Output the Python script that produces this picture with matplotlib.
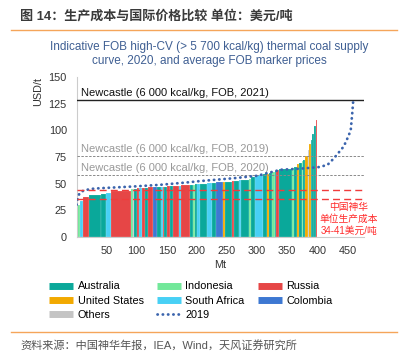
import matplotlib
matplotlib.use("Agg")
import matplotlib.pyplot as plt
from matplotlib.lines import Line2D

plt.rcParams['font.family'] = ['Liberation Sans', 'Noto Sans CJK SC', 'DejaVu Sans']

# country colours
colors = {
    "AU": "#0aa89a", "ID": "#72e89a", "RU": "#e64646", "US": "#f2a900",
    "ZA": "#48d0f5", "CO": "#3d78d2", "OT": "#c4c4c4",
}
names = {
    "AU": "Australia", "ID": "Indonesia", "RU": "Russia", "US": "United States",
    "ZA": "South Africa", "CO": "Colombia", "OT": "Others",
}

# supply curve segments (country, volume Mt, cost USD/t)
seg_country = ["ID", "ZA", "RU", "AU", "AU", "ZA", "RU", "ID", "OT", "AU",
               "RU", "ZA", "RU", "AU", "RU", "CO", "AU", "ZA", "RU", "AU",
               "RU", "AU", "RU", "ZA", "RU", "AU", "ID", "AU", "ZA", "AU",
               "ZA", "AU", "CO", "US", "AU", "RU", "AU", "ZA", "AU", "ID",
               "AU", "ZA", "AU", "US", "AU", "ID", "AU", "RU", "AU", "ID",
               "AU", "US", "AU", "ID", "AU", "US", "OT", "US", "AU", "AU",
               "AU", "RU"]
seg_volume = [5, 5, 11, 20, 8, 9, 33, 3, 2, 4,
              3, 5, 6, 5, 8, 6, 7, 3, 3, 5,
              4, 6, 9, 3, 15, 5, 3, 4, 5, 12,
              8, 6, 13, 2, 12, 4, 8, 4, 12, 4,
              6, 14, 6, 3, 6, 4, 2, 5, 22, 3,
              5, 3, 5, 2, 4, 5, 2, 2, 3, 3,
              3, 1.5]
seg_cost = [30, 34, 37.7, 39, 40.3, 41.5, 43.4, 44.5, 44.8, 45.2,
            45.4, 45.6, 45.8, 46.0, 46.3, 46.5, 46.8, 47.0, 47.1, 47.2,
            47.4, 47.6, 47.8, 48.0, 48.3, 48.7, 49.0, 49.3, 49.6, 50.0,
            50.4, 50.8, 51.4, 51.6, 51.9, 52.2, 52.6, 53.0, 53.5, 54.2,
            56.5, 58.0, 58.7, 59.2, 59.8, 60.5, 61.5, 62.8, 63.5, 64.5,
            66.0, 68.0, 69.5, 71.0, 72.5, 76.0, 82.0, 87.0, 91.0, 97.0,
            104.0, 110.0]

# 2019 supply curve
curve19_x = [0, 2, 5, 12, 25, 39, 70, 94, 139, 183, 205, 261, 300, 339,
             372, 403, 417, 428, 444, 452, 455.6, 458, 460]
curve19_y = [30, 36, 41, 43.5, 45, 45.6, 46.5, 47.2, 48.8, 51, 52.3, 55,
             57.3, 63, 64, 65.5, 67.6, 74, 85, 95, 100.7, 116, 130.6]

# marker prices
price_2021 = 129
price_2019 = 76
price_2020 = 58
shenhua_low = 35.5
shenhua_high = 44

fig = plt.figure(figsize=(4.07, 3.58), dpi=100)
ax = fig.add_axes([0.188, 0.339, 0.707, 0.445])

left = 0
for c, w, h in zip(seg_country, seg_volume, seg_cost):
    ax.bar(left, h, width=w, align="edge", color=colors[c],
           edgecolor="#ffffff80", linewidth=0.2, zorder=2)
    left += w

ax.plot(curve19_x, curve19_y, color="#3b64ad", lw=2.0,
        linestyle=(0, (0.1, 1.8)), dash_capstyle="round", zorder=4)

ax.axhline(price_2021, color="#222222", lw=1.0, zorder=3)
ax.axhline(price_2019, color="#8a8a8a", lw=0.7, ls=(0, (2.5, 1.5)), zorder=3)
ax.axhline(price_2020, color="#8a8a8a", lw=0.7, ls=(0, (2.5, 1.5)), zorder=3)
for yv in (shenhua_low, shenhua_high):
    ax.axhline(yv, color="#f03c3c", lw=1.0, ls=(0, (5, 3)), zorder=5)

ax.text(8, price_2021 + 2, "Newcastle (6 000 kcal/kg, FOB, 2021)",
        fontsize=8, color="#111111", va="bottom")
ax.text(8, price_2019 + 2, "Newcastle (6 000 kcal/kg, FOB, 2019)",
        fontsize=8, color="#999999", va="bottom")
ax.text(8, price_2020 + 2, "Newcastle (6 000 kcal/kg, FOB, 2020)",
        fontsize=8, color="#999999", va="bottom")

ax.text(452, 17, "中国神华\n单位生产成本\n34-41美元/吨", fontsize=7,
        color="#ff2a2a", ha="center", va="center", linespacing=1.25,
        bbox=dict(facecolor="white", edgecolor="none", pad=0.5),
        zorder=6, clip_on=False)

ax.set_xlim(0, 478)
ax.set_ylim(0, 150)
ax.set_xticks([50, 100, 150, 200, 250, 300, 350, 400, 450])
ax.set_yticks([0, 25, 50, 75, 100, 125, 150])
ax.tick_params(axis="both", length=0, labelsize=7.8, colors="#333333")
ax.tick_params(axis="x", pad=6.5)
ax.tick_params(axis="y", pad=7)
for s in ("top", "right"):
    ax.spines[s].set_visible(False)
for s in ("left", "bottom"):
    ax.spines[s].set_color("#cccccc")
    ax.spines[s].set_linewidth(0.8)
ax.set_xlabel("Mt", fontsize=7.8, color="#333333", labelpad=3)

fig.text(38 / 407, 1 - 91 / 358, "USD/t", rotation=90, fontsize=7.8,
         color="#333333", ha="center", va="center")

fig.text(209 / 407, 1 - 54 / 358,
         "Indicative FOB high-CV (> 5 700 kcal/kg) thermal coal supply\n"
         "curve, 2020, and average FOB marker prices",
         fontsize=8.5, color="#3f5f93", ha="center", va="center",
         linespacing=1.2)

fig.text(20 / 407, 1 - 16 / 358, "图 14：生产成本与国际价格比较 单位：美元/吨",
         fontsize=9.4, color="#3a3a3a", weight="bold", va="center")
fig.add_artist(Line2D([11 / 407, 397 / 407], [1 - 29.5 / 358] * 2,
                      color="#f5a55a", lw=1.0))
fig.add_artist(Line2D([11 / 407, 397 / 407], [1 - 331.5 / 358] * 2,
                      color="#f5a55a", lw=1.0))
fig.text(20 / 407, 1 - 345 / 358, "资料来源：中国神华年报，IEA，Wind，天风证券研究所",
         fontsize=8, color="#555555", va="center")

order = ["AU", "US", "OT", "ID", "ZA", None, "RU", "CO"]
handles = []
for c in order:
    if c is None:
        handles.append(Line2D([], [], color="#3b64ad", lw=2.0,
                              linestyle=(0, (0.1, 1.8)),
                              dash_capstyle="round", label="2019"))
    else:
        handles.append(Line2D([], [], color=colors[c], lw=5,
                              solid_capstyle="butt", label=names[c]))
fig.legend(handles=handles, ncol=3, loc="upper left",
           bbox_to_anchor=(44 / 407, 1 - 276 / 358), frameon=False,
           fontsize=7.8, handlelength=2.2, handletextpad=0.4,
           columnspacing=1.25, labelspacing=0.4, borderpad=0)

fig.savefig("out.png", dpi=100)
